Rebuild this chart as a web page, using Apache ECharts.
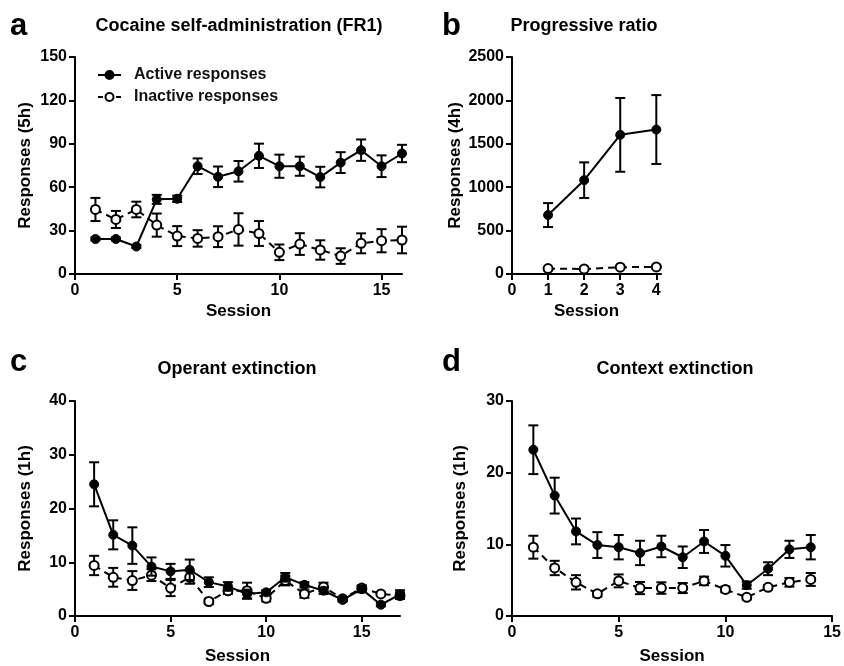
<!DOCTYPE html>
<html>
<head>
<meta charset="utf-8">
<script src="https://cdn.jsdelivr.net/npm/echarts@6/dist/echarts.min.js"></script>
<style>
html,body{margin:0;padding:0;background:#fff;}
#chart{width:844px;height:666px;}
</style>
</head>
<body>
<div id="chart"></div>
<script>
// ---- Data ----
const sessionsA = [1,2,3,4,5,6,7,8,9,10,11,12,13,14,15,16];
const activeA = [24.2,24.2,19,51.6,52,74.5,67.2,71,81.7,74.5,74.5,67,77,85.6,74.5,83.3];
const activeErrA = [1,1,1,3.1,2.2,5.4,7.1,7.1,8.4,8,6.6,7.1,7.2,7.4,7.5,6];
const inactiveA = [44.6,37.7,44.6,33.8,26.2,24.6,25.8,30.8,28,15,20.7,16.6,12.4,21.2,23,23.5];
const inactiveErrA = [8,5.9,5.4,8,6.9,5.7,7.2,11.2,8.6,5.4,7.5,6.7,5.4,6.9,8,9.2];

const sessionsB = [1,2,3,4];
const activeB = [679,1081,1603,1664];
const activeErrB = [138,205,425,397];
const inactiveB = [62,58,78,82];
const inactiveErrB = [5,5,5,5];

const sessionsC = [1,2,3,4,5,6,7,8,9,10,11,12,13,14,15,16,17];
const activeC = [24.5,15.1,13.1,9.2,8.3,8.6,6.3,5.5,4.1,4.4,7.2,5.8,4.7,3.0,5.0,2.1,4.0];
const activeErrC = [4.1,2.7,3.4,1.7,1.4,1.9,0.9,0.8,0.8,0.4,0.8,0.5,0.6,0.3,0.6,0.3,0.8];
const inactiveC = [9.4,7.2,6.6,7.6,5.2,7.2,2.7,4.7,4.7,3.3,6.6,4.1,5.4,3.2,5.2,4.1,3.8];
const inactiveErrC = [1.8,1.75,1.75,1.1,1.5,1.2,0.5,0.6,1.5,0.6,0.9,0.7,0.8,0.3,0.5,0.3,0.6];

const sessionsD = [1,2,3,4,5,6,7,8,9,10,11,12,13,14];
const activeD = [23.2,16.8,11.8,9.9,9.6,8.8,9.7,8.2,10.4,8.4,4.3,6.6,9.3,9.6];
const activeErrD = [3.4,2.5,1.8,1.8,1.7,1.7,1.5,1.5,1.6,1.5,0.5,0.9,1.2,1.7];
const inactiveD = [9.6,6.7,4.7,3.1,4.9,3.9,3.9,3.9,4.9,3.7,2.6,4.0,4.7,5.1];
const inactiveErrD = [1.6,1.0,1.0,0.4,0.9,0.85,0.8,0.7,0.6,0.4,0.3,0.3,0.6,0.9];

const panelTitles = ['Cocaine self-administration (FR1)','Progressive ratio','Operant extinction','Context extinction'];
const panelLetters = ['a','b','c','d'];
const yNames = ['Responses (5h)','Responses (4h)','Responses (1h)','Responses (1h)'];
const xName = 'Session';

// ---- Build ----
const FONT = '"Liberation Sans", Arial, sans-serif';
const chart = echarts.init(document.getElementById('chart'), null, {renderer:'canvas'});

const grids = [
  {left:75, top:57, width:327, height:217},
  {left:512, top:57, width:149, height:217},
  {left:75, top:401, width:325, height:216},
  {left:512, top:401, width:327, height:216}
];
const xCfg = [{min:0,max:16,interval:5},{min:0,max:4.13,interval:1},{min:0,max:17,interval:5},{min:0,max:15,interval:5}];
const yCfg = [{min:0,max:150,interval:30},{min:0,max:2500,interval:500},{min:0,max:40,interval:10},{min:0,max:30,interval:10}];
const yNameGap = [41,48,41,43];
const xNameGap = [29,29,32,32];
const xShowMax = [false,false,false,true];

const axisLine = {show:true, lineStyle:{color:'#000', width:2}};
const axisTick = {show:true, inside:false, length:6, lineStyle:{color:'#000', width:2}};
const labelStyle = {color:'#000', fontFamily:FONT, fontWeight:'bold', fontSize:16};

const xAxes = xCfg.map((c,i)=>({
  type:'value', gridIndex:i, min:c.min, max:c.max, interval:c.interval,
  axisLine, axisTick, splitLine:{show:false},
  axisLabel:Object.assign({margin:9, showMaxLabel:xShowMax[i], formatter: v => (v % 1 !== 0)?'':String(v)}, labelStyle),
  name:xName, nameLocation:'middle', nameGap:xNameGap[i],
  nameTextStyle:{color:'#000', fontFamily:FONT, fontWeight:'bold', fontSize:17}
}));
const yAxes = yCfg.map((c,i)=>({
  type:'value', gridIndex:i, min:c.min, max:c.max, interval:c.interval,
  axisLine, axisTick, splitLine:{show:false},
  axisLabel:Object.assign({margin:8, formatter: v => String(v)}, labelStyle),
  name:yNames[i], nameLocation:'middle', nameGap:yNameGap[i], nameRotate:90,
  nameTextStyle:{color:'#000', fontFamily:FONT, fontWeight:'bold', fontSize:17}
}));

function errSeries(xs, ys, errs, gi, z){
  return {
    type:'custom', xAxisIndex:gi, yAxisIndex:gi, z:z, silent:true,
    data: xs.map((x,k)=>[x, ys[k]-errs[k], ys[k]+errs[k]]),
    encode:{x:0, y:[1,2]},
    renderItem:function(params, api){
      const x = api.value(0);
      const lo = api.coord([x, api.value(1)]);
      const hi = api.coord([x, api.value(2)]);
      const w = 5;
      const st = {stroke:'#000', lineWidth:2};
      return {type:'group', children:[
        {type:'line', shape:{x1:lo[0],y1:lo[1],x2:hi[0],y2:hi[1]}, style:st},
        {type:'line', shape:{x1:hi[0]-w,y1:hi[1],x2:hi[0]+w,y2:hi[1]}, style:st},
        {type:'line', shape:{x1:lo[0]-w,y1:lo[1],x2:lo[0]+w,y2:lo[1]}, style:st}
      ]};
    }
  };
}
function activeSeries(xs, ys, gi){
  return {
    name:'Active responses', type:'line', xAxisIndex:gi, yAxisIndex:gi, z:6,
    data: xs.map((x,k)=>[x, ys[k]]),
    symbol:'circle', symbolSize:9, showAllSymbol:true,
    lineStyle:{color:'#000', width:2, type:'solid'},
    itemStyle:{color:'#000', borderColor:'#000', borderWidth:1},
    emphasis:{disabled:true}, animation:false
  };
}
function inactiveSeries(xs, ys, gi){
  return {
    name:'Inactive responses', type:'line', xAxisIndex:gi, yAxisIndex:gi, z:4,
    data: xs.map((x,k)=>[x, ys[k]]),
    symbol:'circle', symbolSize:9, showAllSymbol:true,
    lineStyle:{color:'#000', width:2, type:[7,5]},
    itemStyle:{color:'#fff', borderColor:'#000', borderWidth:2},
    emphasis:{disabled:true}, animation:false
  };
}

const sets = [
  [sessionsA, activeA, activeErrA, inactiveA, inactiveErrA],
  [sessionsB, activeB, activeErrB, inactiveB, inactiveErrB],
  [sessionsC, activeC, activeErrC, inactiveC, inactiveErrC],
  [sessionsD, activeD, activeErrD, inactiveD, inactiveErrD]
];
const series = [];
sets.forEach((s,gi)=>{
  series.push(errSeries(s[0], s[3], s[4], gi, 3));
  series.push(inactiveSeries(s[0], s[3], gi));
  series.push(errSeries(s[0], s[1], s[2], gi, 5));
  series.push(activeSeries(s[0], s[1], gi));
});

const titlePos = [[239,26],[584,26],[237,369],[675,369]];
const letterPos = [[10,26],[442,26],[10,362],[442,362]];
const graphics = [];
panelTitles.forEach((t,i)=>{
  graphics.push({type:'text', x:titlePos[i][0], y:titlePos[i][1], z:10,
    style:{text:t, fill:'#000', font:'bold 18px '+FONT, textAlign:'center', textVerticalAlign:'middle'}});
  graphics.push({type:'text', x:letterPos[i][0], y:letterPos[i][1], z:10,
    style:{text:panelLetters[i], fill:'#000', font:'bold 31px '+FONT, textAlign:'left', textVerticalAlign:'middle'}});
});

chart.setOption({
  animation:false,
  backgroundColor:'#fff',
  grid: grids.map(g=>Object.assign({containLabel:false}, g)),
  xAxis: xAxes,
  yAxis: yAxes,
  legend:{
    show:true, orient:'vertical', left:97, top:67, padding:0,
    data:[
      {name:'Active responses'},
      {name:'Inactive responses', lineStyle:{type:[5,4], width:2, color:'#000'}}
    ],
    itemWidth:23, itemHeight:10, itemGap:6,
    textStyle:{color:'#111', fontFamily:FONT, fontSize:16, fontWeight:'bold', padding:[0,0,0,8]},
    selectedMode:false
  },
  graphic: graphics,
  series: series
});
</script>
</body>
</html>
